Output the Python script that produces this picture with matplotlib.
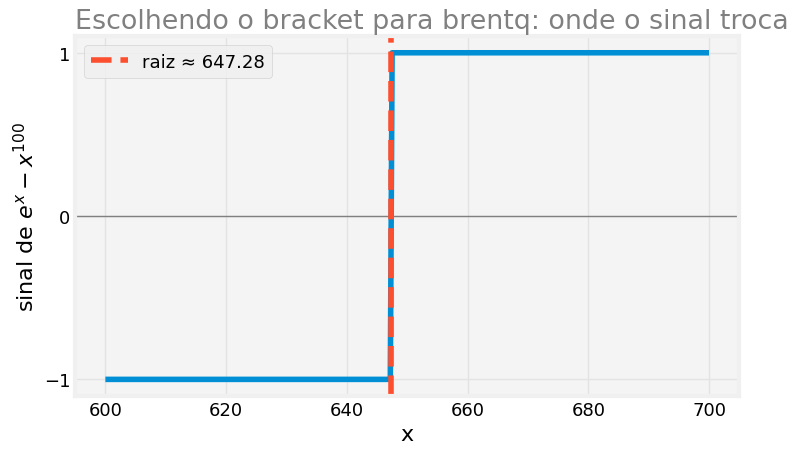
import numpy as np
import matplotlib
matplotlib.use("Agg")
import matplotlib.pyplot as plt

# sinal de e^x - x^100
step_x = [600.0, 647.2, 647.5, 700.0]
step_y = [-1, -1, 1, 1]
raiz = 647.28
yticks = [-1, 0, 1]
xticks = [600, 620, 640, 660, 680, 700]

plt.style.use("fivethirtyeight")
plt.rcParams["figure.facecolor"] = "white"
plt.rcParams["savefig.facecolor"] = "white"
plt.rcParams["axes.facecolor"] = "#f4f4f4"
plt.rcParams["grid.color"] = "#e3e3e3"

fig = plt.figure(figsize=(8, 4.6), dpi=100)
ax = fig.add_axes([0.094, 0.1376, 0.83, 0.781])

ax.plot(step_x, step_y, color="#008fd5", lw=4)
ax.axhline(0, color="gray", lw=1)
ax.axvline(raiz, color="#fc4f30", lw=4, ls="--", label=f"raiz ≈ {raiz:.2f}")

ax.set_xlim(595, 705)
ax.set_ylim(-1.1, 1.1)
ax.set_xticks(xticks)
ax.set_yticks(yticks)
ax.tick_params(labelsize=13)
ax.set_xlabel("x", fontsize=16)
ax.set_ylabel("sinal de $e^x - x^{100}$", fontsize=16)
ax.set_title("Escolhendo o bracket para brentq: onde o sinal troca",
             color="gray", fontsize=19.4, loc="left")
ax.legend(loc="upper left", fontsize=13, facecolor="#f0f0f0")

fig.savefig("out.png", dpi=100)
